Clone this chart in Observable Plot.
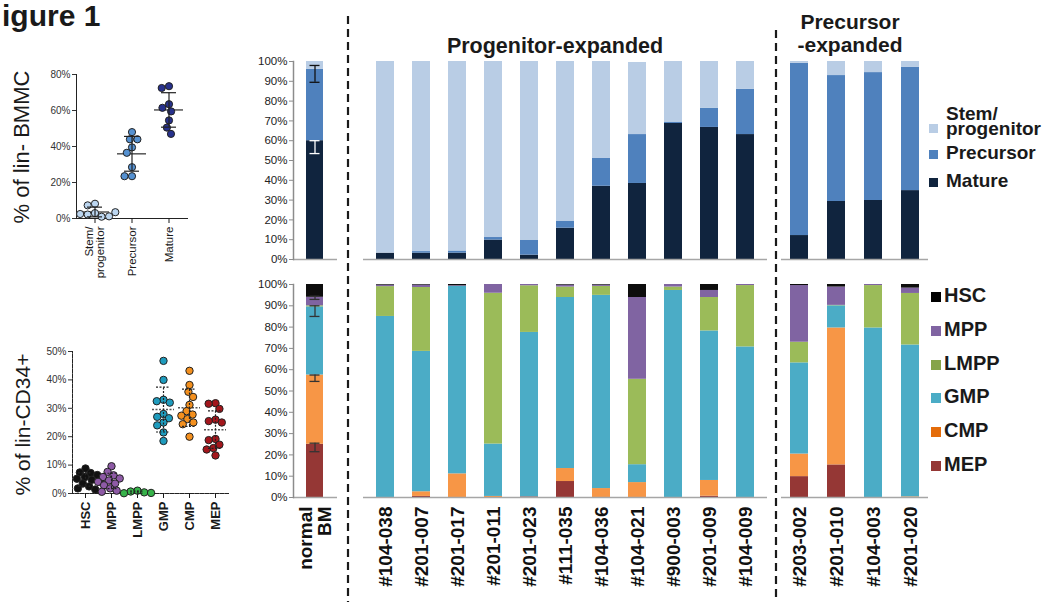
<!DOCTYPE html>
<html><head><meta charset="utf-8">
<script src="https://cdn.jsdelivr.net/npm/d3@7"></script>
<script src="https://cdn.jsdelivr.net/npm/@observablehq/plot@0.6"></script>
<style>
body{margin:0;background:#fff;font-family:"Liberation Sans",Arial,sans-serif;}
#root{position:relative;width:1045px;height:602px;overflow:hidden;background:#fff;}
.abs{position:absolute;}
.txt{position:absolute;white-space:pre;color:#1a1a1a;line-height:1;}
</style></head><body><div id="root"></div>
<script>
// ---------- DATA ----------
const figureTitle = "igure 1";
const bmmcCategories = ["Stem/progenitor", "Precursor", "Mature"];
const bmmcTickLabels = ["Stem/\nprogenitor", "Precursor", "Mature"];
const bmmcStem = [8.2, 7.3, 3.0, 2.2, 1.0, 1.2, 2.5, 3.5];
const bmmcPrecursor = [48, 44, 44, 39.5, 36.5, 28.5, 23.5, 23.5];
const bmmcMature = [73.5, 72.5, 63.5, 61.5, 59.5, 54.5, 50.5, 47];
const bmmcColors = ["#bcd6f0", "#5591d1", "#27318c"];
const bmmcTicks = [0, 20, 40, 60, 80];
const bmmcYLabel = "% of lin- BMMC";

const cd34Categories = ["HSC", "MPP", "LMPP", "GMP", "CMP", "MEP"];
const cd34HSC = [8.8, 7.4, 7.2, 6.5, 5.8, 5.2, 4.8, 4.2, 3.5, 2.5, 1.8, 1.4];
const cd34MPP = [9.6, 7.6, 6.4, 5.8, 5.3, 4.6, 4.1, 3.5, 2.9, 1.8, 1.0, 0.6];
const cd34LMPP = [1.0, 0.7, 0.4, 0.2, 0.1];
const cd34GMP = [46.7, 40, 33, 32.5, 32, 28, 27, 26.5, 25, 24, 21.5, 18.5];
const cd34CMP = [43.2, 38.2, 35.8, 34, 31.2, 29, 27.8, 27.4, 26.2, 25, 24.4, 20];
const cd34MEP = [31.8, 31.6, 29.8, 26, 25.5, 25, 19.2, 18.8, 17.2, 16, 15.5, 13.4];
const cd34Colors = ["#111111", "#8e5aa6", "#37b34a", "#1e9bbd", "#f4901e", "#a3161c"];
const cd34Ticks = [0, 10, 20, 30, 40, 50];
const cd34YLabel = "% of lin-CD34+";

const pctTicks = [0, 10, 20, 30, 40, 50, 60, 70, 80, 90, 100];

// lineage composition (stacked bottom -> top)
const lineageSeries = ["Mature", "Precursor", "Stem/progenitor"];
const lineageColors = ["#10243e", "#4f81bd", "#b9cde5"];
const lineageLegendLabels = ["Mature", "Precursor", "Stem/\nprogenitor"];

const normalSamples = ["normal\nBM"];
const normalMature = [60];
const normalPrecursor = [36];
const normalStem = [4];
const normalLineageErrLo = [53.5, 89.5];
const normalLineageErrHi = [60, 98];

const progSamples = ["#104-038", "#201-007", "#201-017", "#201-011", "#201-023", "#111-035", "#104-036", "#104-021", "#900-003", "#201-009", "#104-009"];
const progMature =    [3.2, 3.2, 3.2, 9.8, 2.2, 15.8, 37.0, 38.4, 68.7, 66.7, 63.1];
const progPrecursor = [0.0, 0.8, 1.1, 1.3, 7.6, 3.4, 14.2, 24.7, 0.7, 9.6, 22.8];
const progStem =      [96.8, 96.0, 95.7, 88.9, 90.2, 80.8, 48.8, 36.4, 30.6, 23.7, 14.1];

const precSamples = ["#203-002", "#201-010", "#104-003", "#201-020"];
const precMature =    [12.1, 29.3, 29.8, 34.8];
const precPrecursor = [87.0, 63.6, 64.6, 62.2];
const precStem =      [0.9, 7.1, 5.6, 3.0];

// progenitor composition (stacked bottom -> top)
const cellSeries = ["MEP", "CMP", "GMP", "LMPP", "MPP", "HSC"];
const cellColors = ["#953735", "#f79646", "#4bacc6", "#9bbb59", "#8064a2", "#0d0d0d"];
const cellLegendColors = ["#953735", "#e46c0a", "#4bacc6", "#86a44a", "#8064a2", "#000000"];

const normalMEP = [25], normalCMP = [32.5], normalGMP = [32], normalLMPP = [0.5], normalMPP = [4], normalHSC = [6];
const normalCellErrSeries = ["MEP", "CMP", "GMP", "MPP"];
const normalCellErrLo = [21.5, 54.5, 85, 93];
const normalCellErrHi = [25.5, 57.5, 90, 94.5];

const progMEP =  [0, 0.5, 0, 0, 0.3, 7.5, 0, 0, 0, 0.6, 0];
const progCMP =  [0, 2.2, 11.1, 0.5, 0, 6.1, 4.2, 7.0, 0, 7.4, 0];
const progGMP =  [85, 65.9, 88, 24.6, 77.2, 80.3, 90.7, 8.4, 97.2, 70.2, 70.7];
const progLMPP = [14, 30, 0, 70.8, 21.9, 4.9, 4.2, 40.1, 1.6, 15.7, 28.8];
const progMPP =  [0.7, 1.1, 0.3, 4.1, 0.6, 0.9, 0.6, 38.4, 1.2, 3.3, 0.5];
const progHSC =  [0.3, 0.3, 0.6, 0, 0, 0.3, 0.3, 6.1, 0, 2.8, 0];

const precMEP =  [9.8, 15.3, 0, 0];
const precCMP =  [10.6, 64.3, 0, 0.3];
const precGMP =  [42.8, 10.4, 79.6, 71.3];
const precLMPP = [9.7, 0.2, 19.9, 24.2];
const precMPP =  [26.6, 8.6, 0.5, 2.5];
const precHSC =  [0.5, 1.2, 0, 1.7];

const panelTitleProg = "Progenitor-expanded";
const panelTitlePrec = "Precursor\n-expanded";

// ---------- HELPERS ----------
const FONT = "'Liberation Sans', Arial, sans-serif";
const root = document.getElementById("root");
function place(node, left, top) {
  const d = document.createElement("div");
  d.className = "abs";
  d.style.left = left + "px"; d.style.top = top + "px";
  d.appendChild(node); root.appendChild(d); return d;
}
function text(str, left, top, css = {}) {
  const d = document.createElement("div");
  d.className = "txt"; d.textContent = str;
  d.style.left = left + "px"; d.style.top = top + "px";
  Object.assign(d.style, css);
  root.appendChild(d); return d;
}
function rotatedLabel(str, cx, cy, size) {
  const d = document.createElement("div");
  d.className = "txt"; d.textContent = str;
  Object.assign(d.style, {width: "240px", textAlign: "center", left: (cx - 120) + "px", top: (cy - size / 2) + "px",
    fontSize: size + "px", transform: "rotate(-90deg)", transformOrigin: "50% 50%"});
  root.appendChild(d);
}

function scatter(o) {
  const data = o.cats.flatMap((c, i) => o.values[i].map(v => ({cat: c, v})));
  const stats = o.cats.map((c, i) => {
    const m = d3.mean(o.values[i]), s = d3.deviation(o.values[i]);
    return {cat: c, mean: m, lo: Math.max(0, m - s), hi: m + s};
  });
  const labelOf = new Map(o.cats.map((c, i) => [c, o.tickLabels[i]]));
  return Plot.plot({
    width: o.width, height: o.height,
    marginLeft: o.mL, marginRight: o.mR, marginTop: o.mT, marginBottom: o.mB,
    style: {fontFamily: FONT, background: "transparent", overflow: "visible", color: "#222"},
    fx: {domain: o.cats, paddingInner: 0, paddingOuter: o.padOuter, label: null},
    y: {domain: [0, o.yMax], label: null},
    color: {domain: o.cats, range: o.colors},
    marks: [
      Plot.axisY({ticks: o.ticks, tickFormat: d => d + "%", fontSize: 10, tickSize: 4, tickPadding: 2, color: "#333", label: null}),
      Plot.frame({anchor: "left", facet: "super", stroke: "#222", strokeDasharray: o.dash}),
      Plot.frame({anchor: "bottom", facet: "super", stroke: "#222", strokeDasharray: o.dash}),
      Plot.axisFx({anchor: "bottom", tickSize: 5, tickPadding: 3, tickRotate: -90, fontSize: o.fxSize, fontWeight: o.fxWeight,
        color: "#1a1a1a", label: null, tickFormat: d => labelOf.get(d)}),
      Plot.ruleY(stats, {fx: "cat", y: "mean", insetLeft: o.meanInset, insetRight: o.meanInset, stroke: o.meanStroke, strokeWidth: 1.5, strokeDasharray: o.meanDash}),
      Plot.dot(data, Plot.dodgeX({anchor: "middle", padding: o.dodgePad}, {fx: "cat", y: "v", r: o.r, fill: "cat", stroke: "#222", strokeWidth: 1})),
      Plot.ruleX(stats, {fx: "cat", x: null, y1: "lo", y2: "hi", stroke: "#222", strokeWidth: 1.2, strokeDasharray: o.meanDash}),
      Plot.ruleY(stats, {fx: "cat", y: "lo", insetLeft: o.capInset, insetRight: o.capInset, stroke: "#222", strokeWidth: 1.2, strokeDasharray: o.meanDash}),
      Plot.ruleY(stats, {fx: "cat", y: "hi", insetLeft: o.capInset, insetRight: o.capInset, stroke: "#222", strokeWidth: 1.2, strokeDasharray: o.meanDash})
    ]
  });
}

function bars(o) {
  const rows = o.samples.flatMap((s, j) => o.series.map((name, k) => ({sample: s, series: name, value: o.values[k][j]})));
  const marks = [
    Plot.barY(rows, {x: "sample", y: "value", fill: "series"}),
    Plot.ruleY([0], {stroke: "#a6a6a6", strokeWidth: 1.5})
  ];
  if (o.yAxis) {
    marks.push(Plot.axisY({ticks: pctTicks, tickFormat: d => d + "%", fontSize: 11.5, fontWeight: "normal", tickSize: 4, tickPadding: 2, stroke: "#8c8c8c", fill: "#222", label: null}));
    marks.push(Plot.frame({anchor: "left", stroke: "#8c8c8c", strokeWidth: 1.5}));
  }
  if (o.xLabels) {
    marks.push(Plot.axisX({tickRotate: -90, tickSize: 0, tickPadding: 9, fontSize: 19, fontWeight: "bold", color: "#111", label: null}));
  }
  if (o.errors) {
    marks.push(Plot.ruleX(o.errors, {x: "sample", y1: "lo", y2: "hi", stroke: "stroke", strokeWidth: 1.3}));
    marks.push(Plot.tickY(o.errors, {x: "sample", y: "lo", stroke: "stroke", strokeWidth: 1.3, inset: 3.5}));
    marks.push(Plot.tickY(o.errors, {x: "sample", y: "hi", stroke: "stroke", strokeWidth: 1.3, inset: 3.5}));
  }
  return Plot.plot({
    width: o.width, height: o.height,
    marginLeft: o.mL, marginRight: o.mR, marginTop: o.mT, marginBottom: o.mB,
    style: {fontFamily: FONT, background: "transparent", overflow: "visible", color: "#222"},
    x: {domain: o.samples, paddingInner: o.pi, paddingOuter: o.po, label: null, ...(o.xLabels ? {} : {axis: null})},
    y: {domain: [0, 100], label: null, ...(o.yAxis ? {} : {axis: null})},
    color: {domain: o.series, range: o.colors},
    marks
  });
}

// ---------- LAYOUT ----------
text(figureTitle, 2, 1, {fontSize: "30px", fontWeight: "bold", lineHeight: "30px"});

// top-left scatter
place(scatter({
  cats: bmmcCategories, tickLabels: bmmcTickLabels, values: [bmmcStem, bmmcPrecursor, bmmcMature],
  colors: bmmcColors, ticks: bmmcTicks, yMax: 80,
  width: 240, height: 300, mL: 67, mR: 45, mT: 74, mB: 82, padOuter: 0.21,
  r: 3.6, dodgePad: 0.3, fxSize: 11.5, fxWeight: "normal",
  meanInset: 4, capInset: 11, meanStroke: "#555", meanDash: null, dash: null
}), 0, 0);
rotatedLabel(bmmcYLabel, 22, 147, 22);

// bottom-left scatter
place(scatter({
  cats: cd34Categories, tickLabels: cd34Categories, values: [cd34HSC, cd34MPP, cd34LMPP, cd34GMP, cd34CMP, cd34MEP],
  colors: cd34Colors, ticks: cd34Ticks, yMax: 50,
  width: 240, height: 272, mL: 68, mR: 9, mT: 21, mB: 109, padOuter: 0.06,
  r: 3.7, dodgePad: -0.5, fxSize: 13, fxWeight: "bold",
  meanInset: 2, capInset: 6, meanStroke: "#555", meanDash: "2,1.5", dash: "1.5,1"
}), 0, 330);
rotatedLabel(cd34YLabel, 22, 424, 21);

// top bar charts (lineage)
const errLineage = lineageSeries.slice(0, 2).map((s, i) => ({sample: normalSamples[0], series: s, lo: normalLineageErrLo[i], hi: normalLineageErrHi[i], stroke: i === 0 ? "#ffffff" : "#111111"}));
place(bars({samples: normalSamples, series: lineageSeries, colors: lineageColors, values: [normalMature, normalPrecursor, normalStem],
  width: 110, height: 215, mL: 53, mR: 13, mT: 11, mB: 6, pi: 0.42, po: 0.42, yAxis: true, errors: errLineage}), 240, 50);
place(bars({samples: progSamples, series: lineageSeries, colors: lineageColors, values: [progMature, progPrecursor, progStem],
  width: 420, height: 215, mL: 13, mR: 3, mT: 11, mB: 6, pi: 0.51, po: 0.245}), 350, 50);
place(bars({samples: precSamples, series: lineageSeries, colors: lineageColors, values: [precMature, precPrecursor, precStem],
  width: 160, height: 215, mL: 11, mR: 2, mT: 11, mB: 6, pi: 0.51, po: 0.22}), 770, 50);

// bottom bar charts (progenitor composition)
const errCells = normalCellErrSeries.map((s, i) => ({sample: normalSamples[0], series: s, lo: normalCellErrLo[i], hi: normalCellErrHi[i], stroke: "#333333"}));
place(bars({samples: normalSamples, series: cellSeries, colors: cellColors, values: [normalMEP, normalCMP, normalGMP, normalLMPP, normalMPP, normalHSC],
  width: 110, height: 327, mL: 53, mR: 13, mT: 9, mB: 105, pi: 0.42, po: 0.42, yAxis: true, xLabels: true, errors: errCells}), 240, 275);
place(bars({samples: progSamples, series: cellSeries, colors: cellColors, values: [progMEP, progCMP, progGMP, progLMPP, progMPP, progHSC],
  width: 420, height: 327, mL: 13, mR: 3, mT: 9, mB: 105, pi: 0.51, po: 0.245, xLabels: true}), 350, 275);
place(bars({samples: precSamples, series: cellSeries, colors: cellColors, values: [precMEP, precCMP, precGMP, precLMPP, precMPP, precHSC],
  width: 160, height: 327, mL: 11, mR: 2, mT: 9, mB: 105, pi: 0.51, po: 0.22, xLabels: true}), 770, 275);

// dashed separators
const ns = "http://www.w3.org/2000/svg";
function dashed(x, y0) {
  const svg = document.createElementNS(ns, "svg");
  svg.setAttribute("width", 4); svg.setAttribute("height", 602 - y0);
  const l = document.createElementNS(ns, "line");
  l.setAttribute("x1", 2); l.setAttribute("x2", 2); l.setAttribute("y1", 0); l.setAttribute("y2", 602 - y0);
  l.setAttribute("stroke", "#1a1a1a"); l.setAttribute("stroke-width", 2.2); l.setAttribute("stroke-dasharray", "8,5");
  svg.appendChild(l); place(svg, x - 2, y0);
}
dashed(348, 16);
dashed(776, 30);

// panel titles
text(panelTitleProg, 440, 36, {fontSize: "21.5px", fontWeight: "bold", width: "230px", textAlign: "center"});
text(panelTitlePrec, 790, 10, {fontSize: "21px", fontWeight: "bold", width: "120px", textAlign: "center", lineHeight: "23px"});

// legends
lineageSeries.slice().reverse().forEach((s, i) => {
  const k = lineageSeries.length - 1 - i;
  const lbl = lineageLegendLabels[k];
  const base = [120, 159, 187][i];
  const sq = document.createElement("div");
  Object.assign(sq.style, {position: "absolute", left: "929px", top: (i === 0 ? base + 4 : base - 9) + "px", width: "9px", height: "9px", background: lineageColors[k]});
  root.appendChild(sq);
  text(lbl, 946, i === 0 ? base - 14 : base - 16, {fontSize: "19px", fontWeight: "bold", lineHeight: i === 0 ? "15px" : "1"});
});
cellSeries.slice().reverse().forEach((s, i) => {
  const k = cellSeries.length - 1 - i;
  const base = 302 + i * 33.8;
  const sq = document.createElement("div");
  Object.assign(sq.style, {position: "absolute", left: "931px", top: (base - 10) + "px", width: "10px", height: "10px", background: cellLegendColors[k]});
  root.appendChild(sq);
  text(s, 944, base - 17, {fontSize: "20px", fontWeight: "bold"});
});
</script></body></html>
